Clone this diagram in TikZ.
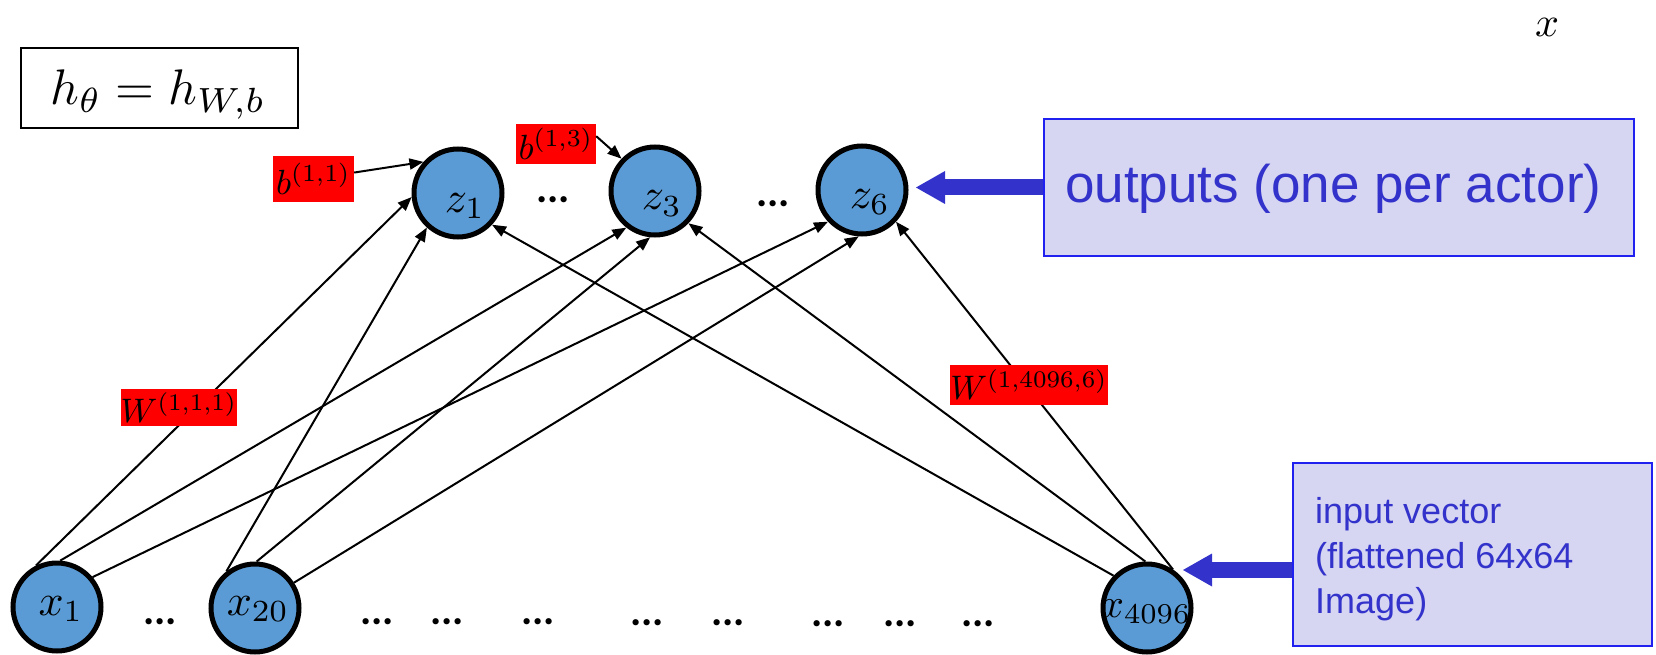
\documentclass[tikz,border=0pt]{standalone}
\usepackage{graphicx}
\usepackage{fontspec}
\newfontfamily\arialf{Liberation Sans}
\newfontfamily\calibrif{Carlito}
\usetikzlibrary{arrows.meta}
\definecolor{nblue}{HTML}{5B9BD5}
\definecolor{tblue}{HTML}{3333CC}
\definecolor{bfill}{RGB}{214,214,242}
\definecolor{bline}{HTML}{2020F0}
\newcommand\mscl[2]{\scalebox{#1}{$#2$}}
\begin{document}
\begin{tikzpicture}[x=1pt,y=-1pt,
  neuron/.style={circle, draw=black, line width=5pt, fill=nblue, minimum size=88pt, inner sep=0pt},
  ntext/.style={inner sep=0pt, anchor=base},
  redlab/.style={fill=red, inner sep=0pt},
  conn/.style={line width=2pt, -{Triangle[length=14pt,width=11pt]}},
  dotsn/.style={inner sep=0pt, font=\calibrif\bfseries\fontsize{42}{46}\selectfont, anchor=base},
  bluebox/.style={draw=bline, line width=1.5pt, fill=bfill, inner sep=0pt},
  bluetext/.style={text=tblue, inner sep=0pt, anchor=base west},
  bigarrow/.style={draw=tblue, line width=16pt, -{Triangle[length=29pt,width=33pt,line width=0pt]}},
]
\useasboundingbox (0,0) rectangle (1656,655);

% formula box
\node[draw=black, line width=1.2pt, minimum width=277pt, minimum height=80pt, inner sep=0pt] (hbox) at (159.5,88) {};
\node[ntext] (htext) at (158,105) {\mscl{5}{h_\theta = h_{W,b}}};

% top-right x
\node[ntext] (xtop) at (1547,37) {\mscl{4.2}{x}};

% neurons
\node[neuron] (z1) at (458,193) {};
\node[neuron] (z3) at (655,191) {};
\node[neuron] (z6) at (862,190) {};
\node[neuron] (x1) at (57,607) {};
\node[neuron] (x20) at (255,608) {};
\node[neuron] (x4096) at (1147,608) {};

\node[ntext] (z1t) at (465,212) {\mscl{4.4}{z_1}};
\node[ntext] (z3t) at (662,210) {\mscl{4.4}{z_3}};
\node[ntext] (z6t) at (870,208) {\mscl{4.4}{z_6}};
\node[ntext] (x1t) at (61,615) {\mscl{4.4}{x_1}};
\node[ntext] (x20t) at (258,615) {\mscl{4.4}{x_{20}}};
\node[ntext] (x4096t) at (1146,617) {\mscl{4.1}{x_{4096}}};

% dots
\node[dotsn] (dt1) at (553,203) {...};
\node[dotsn] (dt2) at (773,206) {...};
\node[dotsn] (db1) at (160,624) {...};
\node[dotsn] (db2) at (377,624) {...};
\node[dotsn] (db3) at (447,624) {...};
\node[dotsn] (db4) at (538,624) {...};
\node[dotsn] (db5) at (647,625) {...};
\node[dotsn] (db6) at (728,625) {...};
\node[dotsn] (db7) at (828,626) {...};
\node[dotsn] (db8) at (900,626) {...};
\node[dotsn] (db9) at (978,626) {...};

% connectors
\draw[conn] (x1.117) -- (z1.185);
\draw[conn] (x1.86) -- (z3.232);
\draw[conn] (x1.40) -- (z6.223);
\draw[conn] (x20.128) -- (z1.228);
\draw[conn] (x20.88) -- (z3.264);
\draw[conn] (x20.33) -- (z6.266);
\draw[conn] (x4096.136) -- (z1.317);
\draw[conn] (x4096.92) -- (z3.316);
\draw[conn] (x4096.56) -- (z6.317);

% red labels
\node[redlab, minimum width=81pt, minimum height=46pt] (b11) at (313.5,179) {\mscl{3.5}{b^{(1,1)}}};
\node[redlab, minimum width=80pt, minimum height=40pt] (b13) at (556,144) {\mscl{3.5}{b^{(1,3)}}};
\node[redlab, minimum width=110pt, minimum height=37pt] (W111) at (179,407.5) {\mscl{3.4}{W^{(1,1,1)}}};
\node[redlab, minimum width=150pt, minimum height=40pt] (W4096) at (1029,384.5) {\mscl{3.4}{W^{(1,4096,6)}}};
\draw[conn] (b11.9) -- (z1.138);
\draw[conn] (b13.11) -- (z3.136);

% blue arrows
\coordinate (outtip) at (916,187.5);
\coordinate (intip) at (1183,570);
\draw[bigarrow] (1044,187.5) -- (outtip);
\draw[bigarrow] (1293,570) -- (intip);

% blue boxes
\node[bluebox, minimum width=590pt, minimum height=137pt] (outbox) at (1339,187.5) {};
\node[bluebox, minimum width=359pt, minimum height=183pt] (inbox) at (1472.5,554.5) {};
\node[bluetext, font=\arialf\fontsize{53}{60}\selectfont] (outtext) at (1065,202) {outputs (one per actor)};
\node[bluetext, font=\arialf\fontsize{36}{45}\selectfont] (in1) at (1315,523) {input vector};
\node[bluetext, font=\arialf\fontsize{36}{45}\selectfont] (in2) at (1315,568) {(flattened 64x64};
\node[bluetext, font=\arialf\fontsize{36}{45}\selectfont] (in3) at (1315,613) {Image)};
\end{tikzpicture}
\end{document}
